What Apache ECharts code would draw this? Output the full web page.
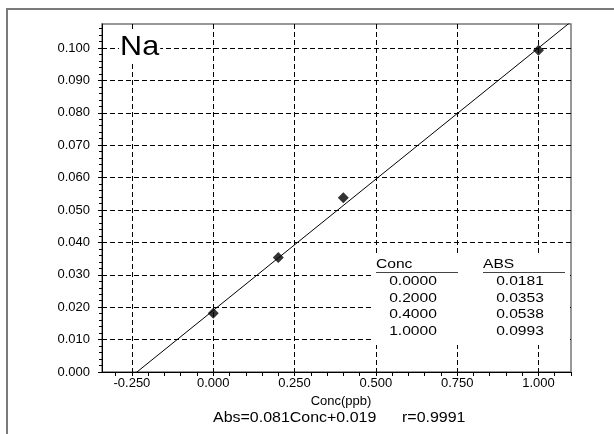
<!DOCTYPE html>
<html>
<head>
<meta charset="utf-8">
<script src="https://cdn.jsdelivr.net/npm/echarts@6/dist/echarts.min.js"></script>
<style>
  html, body { margin: 0; padding: 0; background: #fff; }
  #chart { width: 614px; height: 434px; }
</style>
</head>
<body>
<div id="chart"></div>
<script>
// calibration points
const concVals = [0.0, 0.2, 0.4, 1.0];
const absVals = [0.0181, 0.0353, 0.0538, 0.0993];

// fit result
const slope = 0.081;
const intercept = 0.019;
const rValue = 0.9991;

const element = "Na";
const xAxisName = "Conc(ppb)";

// axis ranges and ticks
const xMin = -0.342;
const xMax = 1.1;
const yMin = 0;
const yMax = 0.1074;
const xTickLabels = [-0.25, 0.0, 0.25, 0.5, 0.75, 1.0];
const yTickLabels = [0.0, 0.01, 0.02, 0.03, 0.04, 0.05, 0.06, 0.07, 0.08, 0.09, 0.1];

const FONT = "'Liberation Sans', Arial, sans-serif";

const chart = echarts.init(document.getElementById("chart"), null, { renderer: "canvas" });

// small ticks every 0.05 on x and 0.002 on y
const xSmallTicks = [];
for (let i = -6; i <= 22; i++) xSmallTicks.push(+(i * 0.05).toFixed(3));
const ySmallTicks = [];
for (let i = 0; i <= 53; i++) ySmallTicks.push(+(i * 0.002).toFixed(4));

const points = concVals.map((c, i) => [c, absVals[i]]);
const fitLine = [xMin, xMax].map((x) => [x, slope * x + intercept]);

const dashed = { color: "#000", width: 1, type: [5, 3] };

// the original print is a bit stretched sideways
const txt = (text, x, y, size, sx, align) => ({
  type: "text",
  z: 110,
  x: x,
  y: y,
  scaleX: sx,
  style: {
    text: text,
    font: size + "px " + FONT,
    fill: "#000",
    align: align || "left",
    verticalAlign: "middle",
  },
});

// table drawn over the plot
const tableEls = [
  {
    type: "rect",
    z: 100,
    shape: { x: 373, y: 253, width: 197, height: 92 },
    style: { fill: "#fff" },
  },
  txt("Conc", 376, 264.5, 13, 1.2),
  txt("ABS", 483, 264.5, 13, 1.2),
  {
    type: "line",
    z: 110,
    shape: { x1: 376, y1: 272.5, x2: 458, y2: 272.5 },
    style: { stroke: "#444", lineWidth: 1 },
  },
  {
    type: "line",
    z: 110,
    shape: { x1: 483, y1: 272.5, x2: 565, y2: 272.5 },
    style: { stroke: "#444", lineWidth: 1 },
  },
];
concVals.forEach((c, i) => {
  const y = 281.5 + i * 16.7;
  tableEls.push(txt(c.toFixed(4), 413, y, 13, 1.2, "center"));
  tableEls.push(txt(absVals[i].toFixed(4), 520, y, 13, 1.2, "center"));
});

const options = {
  backgroundColor: "#fff",
  animation: false,
  textStyle: { fontFamily: FONT },
  grid: {
    left: 102,
    top: 24,
    right: 43,
    bottom: 62,
    show: true,
    borderColor: "#777",
    borderWidth: 1.5,
    backgroundColor: "transparent",
  },
  xAxis: [
    {
      type: "value",
      min: xMin,
      max: xMax,
      position: "bottom",
      name: xAxisName,
      nameLocation: "middle",
      nameGap: 18,
      nameTextStyle: { fontSize: 13, color: "#000", fontFamily: FONT, padding: [0, 0, 0, 9] },
      axisLine: { show: true, onZero: false, lineStyle: { color: "#000", width: 1 } },
      axisTick: { show: false, customValues: xTickLabels },
      axisLabel: {
        customValues: xTickLabels,
        formatter: (v) => v.toFixed(3),
        fontSize: 13,
        color: "#000",
        margin: 5,
        fontFamily: FONT,
      },
      splitLine: { show: true, lineStyle: dashed },
    },
    {
      type: "value",
      min: xMin,
      max: xMax,
      position: "bottom",
      offset: 0,
      axisLine: { show: false, onZero: false },
      axisTick: { show: true, customValues: xSmallTicks, length: 4, lineStyle: { color: "#000" } },
      axisLabel: { show: false },
      splitLine: { show: false },
    },
  ],
  yAxis: [
    {
      type: "value",
      min: yMin,
      max: yMax,
      position: "left",
      axisLine: { show: true, onZero: false, lineStyle: { color: "#000", width: 1 } },
      axisTick: { show: true, customValues: yTickLabels, length: 4, lineStyle: { color: "#000" } },
      axisLabel: {
        customValues: yTickLabels,
        formatter: (v) => v.toFixed(3),
        fontSize: 13,
        color: "#000",
        margin: 12,
        fontFamily: FONT,
      },
      splitLine: { show: true, showMinLine: false, lineStyle: dashed },
    },
    {
      type: "value",
      min: yMin,
      max: yMax,
      position: "left",
      offset: 0,
      axisLine: { show: false, onZero: false },
      axisTick: { show: true, customValues: ySmallTicks, length: 3, lineStyle: { color: "#000" } },
      axisLabel: { show: false },
      splitLine: { show: false },
    },
  ],
  series: [
    {
      name: "fit",
      type: "line",
      data: fitLine,
      showSymbol: false,
      clip: true,
      lineStyle: { color: "#000", width: 1 },
      z: 3,
    },
    {
      name: "points",
      type: "scatter",
      data: points,
      symbol: "diamond",
      symbolSize: 11,
      itemStyle: { color: "#000" },
      z: 4,
    },
  ],
  graphic: [
    {
      type: "rect",
      z: 100,
      shape: { x: 7, y: 9, width: 700, height: 500 },
      style: { fill: "none", stroke: "#7a7a7a", lineWidth: 2 },
    },
    {
      type: "text",
      z: 100,
      x: 119,
      y: 32,
      scaleX: 1.09,
      style: {
        text: element,
        font: "28px " + FONT,
        fill: "#000",
        backgroundColor: "#fff",
        padding: [1, 1, 1, 1],
      },
    },
    ...tableEls,
    txt("Abs=" + slope.toFixed(3) + "Conc+" + intercept.toFixed(3), 213, 418.3, 14, 1.14),
    txt("r=" + rValue.toFixed(4), 402, 418.3, 14, 1.14),
  ],
};

chart.setOption(options);
</script>
</body>
</html>
